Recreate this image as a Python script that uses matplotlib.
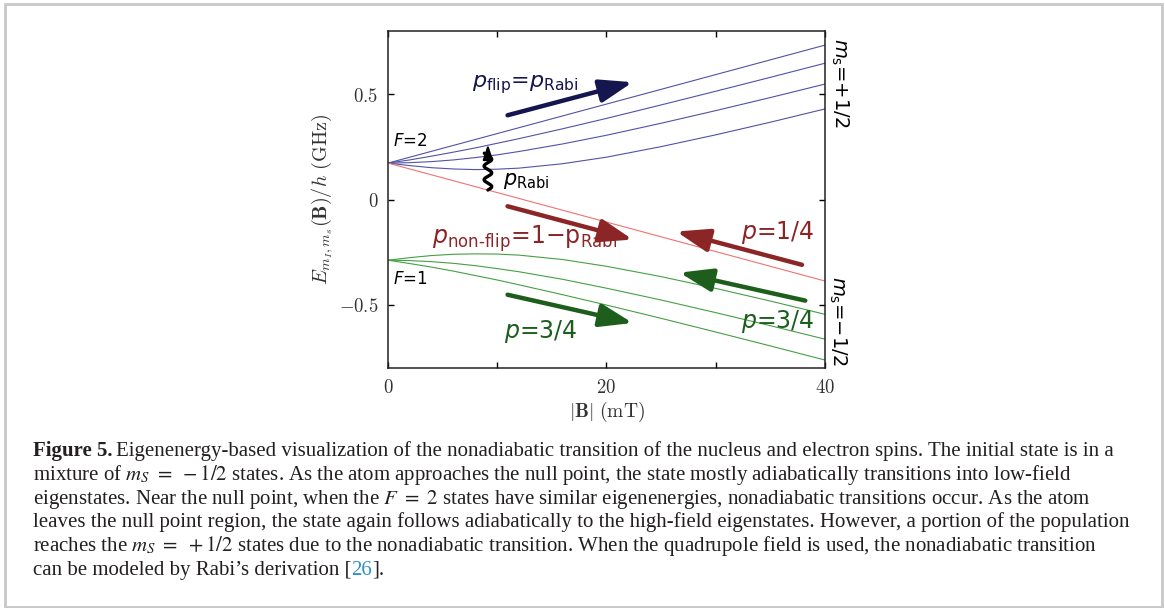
import matplotlib
matplotlib.use("Agg")
import numpy as np
import matplotlib.pyplot as plt
from matplotlib.patches import Rectangle

B = [0, 2, 4, 6, 8, 10, 12, 16, 20, 25, 30, 35, 40]

# F=2 levels going to m_s=+1/2 (GHz)
up_p2 = [0.173, 0.201, 0.229, 0.257, 0.285, 0.313, 0.341, 0.397, 0.453, 0.523, 0.593, 0.663, 0.733]
up_p1 = [0.173, 0.188, 0.206, 0.225, 0.245, 0.267, 0.289, 0.336, 0.385, 0.449, 0.514, 0.580, 0.647]
up_0 = [0.173, 0.175, 0.180, 0.188, 0.199, 0.212, 0.228, 0.264, 0.305, 0.362, 0.422, 0.484, 0.548]
up_m1 = [0.173, 0.161, 0.151, 0.145, 0.142, 0.144, 0.149, 0.170, 0.201, 0.251, 0.307, 0.367, 0.430]
# F=2 stretched state that goes down to m_s=-1/2
up_m2 = [0.173, 0.145, 0.117, 0.089, 0.061, 0.033, 0.005, -0.051, -0.107, -0.177, -0.247, -0.317, -0.387]
# F=1 levels
lo_m1 = [-0.288, -0.276, -0.266, -0.260, -0.258, -0.259, -0.264, -0.285, -0.317, -0.366, -0.422, -0.482, -0.545]
lo_0 = [-0.288, -0.290, -0.295, -0.303, -0.314, -0.328, -0.343, -0.379, -0.421, -0.477, -0.537, -0.599, -0.663]
lo_p1 = [-0.288, -0.304, -0.321, -0.340, -0.361, -0.382, -0.405, -0.452, -0.501, -0.564, -0.629, -0.695, -0.762]

xticks = [0, 10, 20, 30, 40]
xticklabels = ["$0$", "", "$20$", "", "$40$"]
yticks = [-0.5, 0, 0.5]
yticklabels = ["$-0.5$", "$0$", "$0.5$"]

caption = [
    "Eigenenergy-based visualization of the nonadiabatic transition of the nucleus and electron spins. The initial state is in a",
    r"mixture of $m_S\ =\ -1/2$ states. As the atom approaches the null point, the state mostly adiabatically transitions into low-field",
    r"eigenstates. Near the null point, when the $F\ =\ 2$ states have similar eigenenergies, nonadiabatic transitions occur. As the atom",
    "leaves the null point region, the state again follows adiabatically to the high-field eigenstates. However, a portion of the population",
    r"reaches the $m_S\ =\ +1/2$ states due to the nonadiabatic transition. When the quadrupole field is used, the nonadiabatic transition",
    "can be modeled by Rabi\u2019s derivation [",
]

blue = "#5252a6"
red = "#f07272"
green = "#45a045"
navy = "#15154f"
dred = "#8c2626"
dgreen = "#1d5e1d"

plt.rcParams["font.family"] = "DejaVu Sans"

fig = plt.figure(figsize=(11.65, 6.08), dpi=100)
ax = fig.add_axes([0.3330, 0.3947, 0.3751, 0.5543])

for y in [up_p2, up_p1, up_0, up_m1]:
    ax.plot(B, y, color=blue, lw=0.8)
ax.plot(B, up_m2, color=red, lw=0.8)
for y in [lo_m1, lo_0, lo_p1]:
    ax.plot(B, y, color=green, lw=0.8)

ax.set_xlim(0, 40)
ax.set_ylim(-0.8, 0.8)
ax.set_xticks(xticks, labels=xticklabels, fontsize=13.5, math_fontfamily="cm")
ax.set_yticks(yticks, labels=yticklabels, fontsize=13.5, math_fontfamily="cm")
ax.tick_params(direction="in", top=True, right=True, length=4, width=1, pad=7,
               labelcolor="#333333")
for s in ax.spines.values():
    s.set_linewidth(1.1)
    s.set_color("#222222")
ax.set_xlabel(r"$|\mathbf{B}|\ (\mathrm{mT})$", fontsize=14, math_fontfamily="cm",
              color="#333333", labelpad=2)
ax.set_ylabel(r"$E_{m_I,m_s}(\mathbf{B})/h\ (\mathrm{GHz})$", fontsize=14.5,
              math_fontfamily="cm", color="#333333", labelpad=3)

sans = dict(math_fontfamily="dejavusans", va="baseline")
ax.text(0.45, 0.252, "$F$=2", fontsize=12, **sans)
ax.text(0.45, -0.40, "$F$=1", fontsize=12, **sans)
ax.text(7.7, 0.53, r"$p_\mathrm{flip}$=$p_\mathrm{Rabi}$", color=navy, fontsize=16, **sans)
ax.text(10.5, 0.07, r"$p_\mathrm{Rabi}$", color="k", fontsize=15, **sans)
ax.text(4.0, -0.21, "$p_\\mathrm{non\\text{-}flip}$=1\u2212$\\mathrm{p}_\\mathrm{Rabi}$",
        color=dred, fontsize=17, **sans)
ax.text(32.3, -0.186, "$p$=1/4", color=dred, fontsize=17, **sans)
ax.text(10.6, -0.657, "$p$=3/4", color=dgreen, fontsize=17, **sans)
ax.text(32.3, -0.61, "$p$=3/4", color=dgreen, fontsize=17, **sans)
ax.text(41.35, 0.767, "$m_\\mathrm{s}$=+1/2", fontsize=14, rotation=-90,
        ha="center", va="top", math_fontfamily="dejavusans", clip_on=False)
ax.text(41.2, -0.362, "$m_\\mathrm{s}$=\u22121/2", fontsize=14, rotation=-90,
        ha="center", va="top", math_fontfamily="dejavusans", clip_on=False)

# population arrows (tail, tip, colour)
arrows = [((10.95, 0.40), (22.4, 0.557), navy),
          ((10.95, -0.032), (22.4, -0.19), dred),
          ((37.9, -0.31), (26.4, -0.152), dred),
          ((10.95, -0.452), (22.4, -0.586), dgreen),
          ((38.2, -0.48), (26.7, -0.347), dgreen)]
for tail, tip, c in arrows:
    ax.annotate("", xy=tip, xytext=tail,
                arrowprops=dict(arrowstyle="-|>,head_length=1.0,head_width=0.35",
                                lw=3.2, color=c, shrinkA=0, shrinkB=0,
                                mutation_scale=20))

# wavy arrow for the Rabi transition
wy = np.linspace(0.045, 0.22, 200)
wx = 9.15 + 0.35 * np.sin(2 * np.pi * (wy - 0.045) / 0.065)
ax.plot(wx, wy, color="k", lw=2.4, solid_capstyle="round")
ax.annotate("", xy=(9.15, 0.262), xytext=(9.15, 0.21),
            arrowprops=dict(arrowstyle="-|>,head_length=0.6,head_width=0.2",
                            color="k", lw=1.5, mutation_scale=15, shrinkA=0, shrinkB=0))

# caption and frame
fig.add_artist(Rectangle((5 / 1165, 1 / 608), 1157 / 1165, 603 / 608,
                         transform=fig.transFigure, fill=False,
                         edgecolor="#c8c8c8", lw=2))

cap = dict(family="Liberation Serif", fontsize=15, color="#231f20",
           math_fontfamily="stix", va="baseline")
x0 = 33 / 1165
base = [456 + 23.8 * i for i in range(6)]
fig.canvas.draw()
renderer = fig.canvas.get_renderer()

t = fig.text(x0, 1 - base[0] / 608, "Figure 5.", weight="bold", **cap)
bb = t.get_window_extent(renderer)
fig.text(bb.x1 / 1165 + 4 / 1165, 1 - base[0] / 608, caption[0], **cap)
for i in range(1, 5):
    fig.text(x0, 1 - base[i] / 608, caption[i], **cap)
t = fig.text(x0, 1 - base[5] / 608, caption[5], **cap)
bb = t.get_window_extent(renderer)
t = fig.text(bb.x1 / 1165, 1 - base[5] / 608, "26", **{**cap, "color": "#2f8fc6"})
bb = t.get_window_extent(renderer)
fig.text(bb.x1 / 1165, 1 - base[5] / 608, "].", **cap)

fig.savefig("out.png", dpi=100)
